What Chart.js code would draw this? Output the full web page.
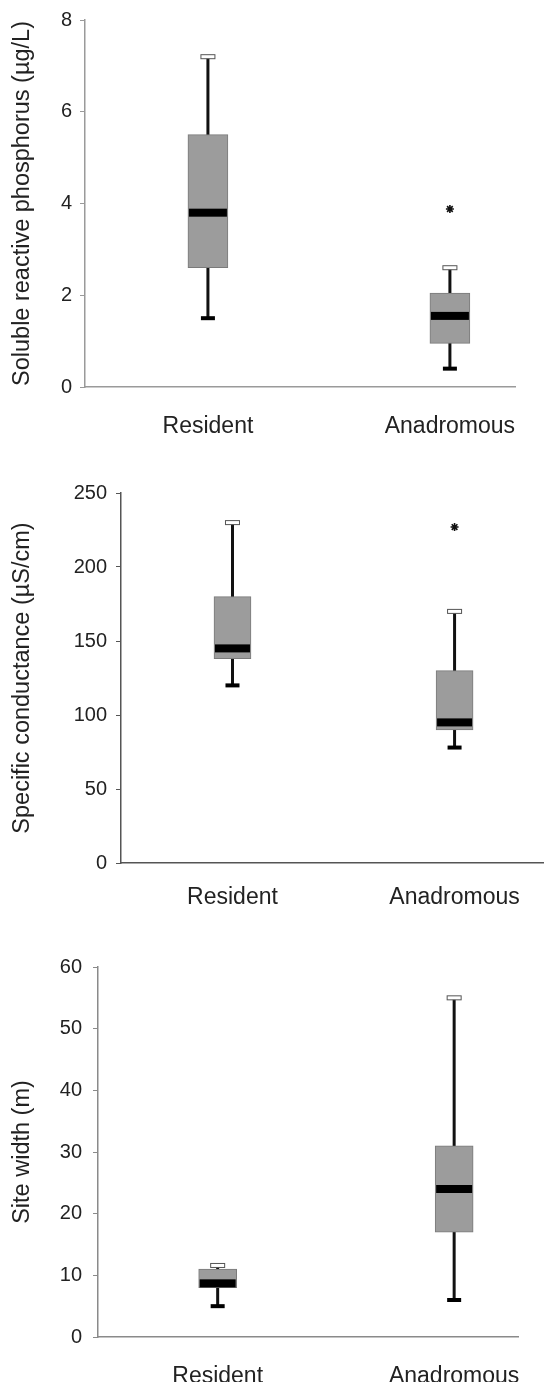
<!DOCTYPE html>
<html>
<head>
<meta charset="utf-8">
<script src="https://cdn.jsdelivr.net/npm/chart.js@4.4.1/dist/chart.umd.min.js"></script>
<style>
  body { margin: 0; background: #fff; }
  canvas { position: absolute; left: 0; }
</style>
</head>
<body>
<canvas id="chart1" width="549" height="460" style="top:0px"></canvas>
<canvas id="chart2" width="549" height="470" style="top:460px"></canvas>
<canvas id="chart3" width="549" height="452" style="top:930px"></canvas>
<script>
//  Box plots: resident vs anadromous sites

const groups = ['Resident', 'Anadromous']

// Soluble reactive phosphorus (µg/L)
const phosMin = [1.5, 0.4]
const phosQ1 = [2.6, 0.95]
const phosMedian = [3.8, 1.55]
const phosQ3 = [5.5, 2.05]
const phosMax = [7.2, 2.6]
const phosOutliers = [null, 3.88]
const phosTicks = [0, 2, 4, 6, 8]

// Specific conductance (µS/cm)
const condMin = [120, 78]
const condQ1 = [138, 90]
const condMedian = [145, 95]
const condQ3 = [180, 130]
const condMax = [230, 170]
const condOutliers = [null, 227]
const condTicks = [0, 50, 100, 150, 200, 250]

// Site width (m)
const widthMin = [5, 6]
const widthQ1 = [8, 17]
const widthMedian = [8.7, 24]
const widthQ3 = [11, 31]
const widthMax = [11.6, 55]
const widthOutliers = [null, null]
const widthTicks = [0, 10, 20, 30, 40, 50, 60]

const FONT = "'Liberation Sans', Arial, sans-serif"

// whiskers under the boxes, medians and caps on top
const boxParts = {
    id: 'boxParts',
    beforeDatasetsDraw(chart, args, opts) {
        const {ctx, scales: {x, y}} = chart
        ctx.save()
        ctx.strokeStyle = '#111'
        ctx.lineWidth = 3
        opts.min.forEach((lo, i) => {
            const px = x.getPixelForValue(i + 1)
            ctx.beginPath()
            ctx.moveTo(px, y.getPixelForValue(lo))
            ctx.lineTo(px, y.getPixelForValue(opts.max[i]))
            ctx.stroke()
        })
        ctx.restore()
    },
    afterDatasetsDraw(chart, args, opts) {
        const {ctx, scales: {x, y}} = chart
        ctx.save()
        opts.median.forEach((m, i) => {
            const px = x.getPixelForValue(i + 1)
            const w = opts.boxWidth - 2
            ctx.fillStyle = '#000'
            ctx.fillRect(px - w / 2, y.getPixelForValue(m) - 4, w, 8)
            // bottom cap
            ctx.fillRect(px - 7, y.getPixelForValue(opts.min[i]) - 2, 14, 4)
            // top cap, hollow
            const ty = y.getPixelForValue(opts.max[i])
            ctx.fillStyle = '#fff'
            ctx.fillRect(px - 7, ty - 2, 14, 4)
            ctx.strokeStyle = '#555'
            ctx.lineWidth = 1
            ctx.strokeRect(px - 7, ty - 2, 14, 4)
        })
        ctx.restore()
    }
}

const makeBoxChart = (id, s, look) => {
    const ctx = document.getElementById(id).getContext('2d')
    const H = ctx.canvas.height
    return new Chart(ctx, {
        type: 'bar',
        data: {
            datasets: [
                {
                    data: groups.map((g, i) => ({x: i + 1, y: [s.q1[i], s.q3[i]]})),
                    backgroundColor: '#9c9c9c',
                    borderColor: '#7a7a7a',
                    borderWidth: 1,
                    borderSkipped: false,
                    barThickness: look.boxWidth
                },
                {
                    type: 'scatter',
                    data: s.outliers.map((v, i) => v === null ? null : {x: i + 1, y: v}).filter(p => p),
                    pointStyle: 'star',
                    radius: 4,
                    borderColor: '#111',
                    borderWidth: 1.6
                }
            ]
        },
        options: {
            responsive: false,
            animation: false,
            devicePixelRatio: 1,
            layout: {padding: {top: look.top, right: 549 - look.right, left: 0, bottom: 0}},
            plugins: {
                legend: {display: false},
                tooltip: {enabled: false},
                boxParts: {min: s.min, max: s.max, median: s.median, boxWidth: look.boxWidth}
            },
            scales: {
                x: {
                    type: 'linear',
                    offset: false,
                    min: look.xMin,
                    max: look.xMax,
                    afterBuildTicks: sc => { sc.ticks = groups.map((g, i) => ({value: i + 1})) },
                    afterFit: sc => { sc.height = H - look.bottom },
                    grid: {display: false, offset: false},
                    border: {color: look.axis, width: 1.5},
                    ticks: {
                        callback: v => groups[v - 1],
                        padding: look.labelPad,
                        maxRotation: 0,
                        color: '#222',
                        font: {family: FONT, size: 23}
                    }
                },
                y: {
                    min: 0,
                    max: s.ticks[s.ticks.length - 1],
                    afterBuildTicks: sc => { sc.ticks = s.ticks.map(v => ({value: v})) },
                    afterFit: sc => { sc.width = look.left },
                    grid: {drawOnChartArea: false, tickLength: 5, color: look.axis},
                    border: {color: look.axis, width: 1.5},
                    ticks: {
                        padding: look.tickPad,
                        color: '#222',
                        font: {family: FONT, size: 20}
                    },
                    title: {
                        display: true,
                        text: look.title,
                        color: '#222',
                        padding: {top: 8, bottom: 0},
                        font: {family: FONT, size: 23.5}
                    }
                }
            }
        },
        plugins: [boxParts]
    })
}

const phosphorusChart = makeBoxChart('chart1',
    {min: phosMin, q1: phosQ1, median: phosMedian, q3: phosQ3, max: phosMax, outliers: phosOutliers, ticks: phosTicks},
    {title: 'Soluble reactive phosphorus (µg/L)', top: 18, bottom: 387, left: 85, right: 515,
     xMin: 0.492, xMax: 2.269, boxWidth: 40, axis: '#9a9a9a', tickPad: 8, labelPad: 18})

const conductanceChart = makeBoxChart('chart2',
    {min: condMin, q1: condQ1, median: condMedian, q3: condQ3, max: condMax, outliers: condOutliers, ticks: condTicks},
    {title: 'Specific conductance (µS/cm)', top: 33, bottom: 403, left: 121, right: 549,
     xMin: 0.498, xMax: 2.4, boxWidth: 37, axis: '#555', tickPad: 9, labelPad: 13})

const siteWidthChart = makeBoxChart('chart3',
    {min: widthMin, q1: widthQ1, median: widthMedian, q3: widthQ3, max: widthMax, outliers: widthOutliers, ticks: widthTicks},
    {title: 'Site width (m)', top: 37, bottom: 407, left: 98, right: 518,
     xMin: 0.494, xMax: 2.27, boxWidth: 38, axis: '#8a8a8a', tickPad: 11, labelPad: 18})
</script>
</body>
</html>
